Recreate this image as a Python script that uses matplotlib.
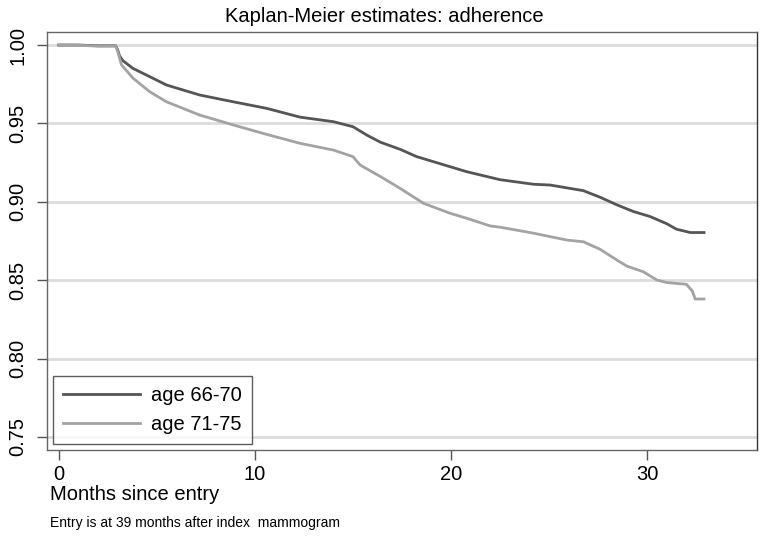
import matplotlib
matplotlib.use("Agg")
import matplotlib.pyplot as plt

plt.rcParams['font.family'] = ['Liberation Sans', 'DejaVu Sans']

# Data (Kaplan-Meier survival estimates)
t_young = [0, 1, 2, 2.9, 3.0, 3.1, 3.27, 3.78, 4.64, 5.49, 7.19, 8.89, 10.6, 12.3, 14.0, 15.0,
           15.7, 16.4, 17.4, 18.25, 19.1, 20.8, 22.5, 24.2, 25.05, 26.75, 27.6, 28.45, 29.3,
           30.15, 31.0, 31.5, 32.2, 32.9]
s_young = [1.0, 1.0, 0.9995, 0.9995, 0.997, 0.993, 0.990, 0.9851, 0.9798, 0.9745, 0.9681, 0.9638,
           0.9596, 0.9540, 0.9511, 0.9479, 0.9426, 0.9380, 0.9335, 0.9288, 0.9256, 0.9192, 0.9141,
           0.9112, 0.9107, 0.9071, 0.9029, 0.8981, 0.8938, 0.8906, 0.8860, 0.8825, 0.8804, 0.8804]

t_old = [0, 1, 2, 2.9, 3.0, 3.2, 3.79, 4.64, 5.49, 7.19, 8.9, 10.6, 12.3, 14.0, 15.0, 15.36,
         16.55, 17.4, 18.6, 19.95, 20.8, 22.0, 22.5, 24.2, 25.9, 26.75, 27.6, 28.45, 28.96, 29.8,
         30.5, 31.0, 32.0, 32.3, 32.45, 32.9]
s_old = [1.0, 0.9998, 0.9993, 0.9993, 0.996, 0.9873, 0.9788, 0.9702, 0.9638, 0.9553, 0.9490,
         0.9430, 0.9373, 0.9330, 0.9288, 0.9235, 0.9150, 0.9086, 0.8990, 0.8927, 0.8895, 0.8846,
         0.8838, 0.8800, 0.8756, 0.8745, 0.8697, 0.8629, 0.8590, 0.8554, 0.8501, 0.8485, 0.8474,
         0.8431, 0.8380, 0.8380]

labels = ["age 66-70", "age 71-75"]
xticks = [0, 10, 20, 30]
yticks = [0.75, 0.80, 0.85, 0.90, 0.95, 1.00]

fig = plt.figure(figsize=(7.68, 5.42), dpi=100)
ax = fig.add_axes([47/768, 1 - 450/542, (757-47)/768, (450-32)/542])

for y in yticks:
    ax.axhline(y, color='#dcdcdc', lw=2, zorder=0)

ax.plot(t_young, s_young, color='#555555', lw=2, label=labels[0])
ax.plot(t_old, s_old, color='#a3a3a3', lw=2, label=labels[1])

ax.set_xlim(-0.6, 35.6)
ax.set_ylim(0.7417, 1.0083)
ax.set_xticks(xticks)
ax.set_yticks(yticks)
ax.set_yticklabels([f"{v:.2f}" for v in yticks], rotation=90, va='center')
ax.tick_params(axis='both', labelsize=14.5, length=7, width=1, color='#555555', direction='out')
ax.tick_params(axis='y', pad=7)
for s in ax.spines.values():
    s.set_color('#666666')
    s.set_linewidth(1)
ax.spines['right'].set_color('#333333')

fig.text(0.5, 1 - 17/542, "Kaplan-Meier estimates: adherence", fontsize=14.5,
         ha='center', va='center')

leg = ax.legend(loc='lower left', fontsize=14.5, frameon=True, fancybox=False,
                edgecolor='#333333', borderaxespad=0.3, handlelength=3.8,
                handletextpad=0.55, borderpad=0.5, labelspacing=0.5)
leg.get_frame().set_linewidth(1)

fig.text(50/768, 1 - 495/542, "Months since entry", fontsize=14.5, va='center', ha='left')
fig.text(50/768, 1 - 523/542, "Entry is at 39 months after index  mammogram", fontsize=10, va='center', ha='left')

fig.savefig("out.png", dpi=100)
